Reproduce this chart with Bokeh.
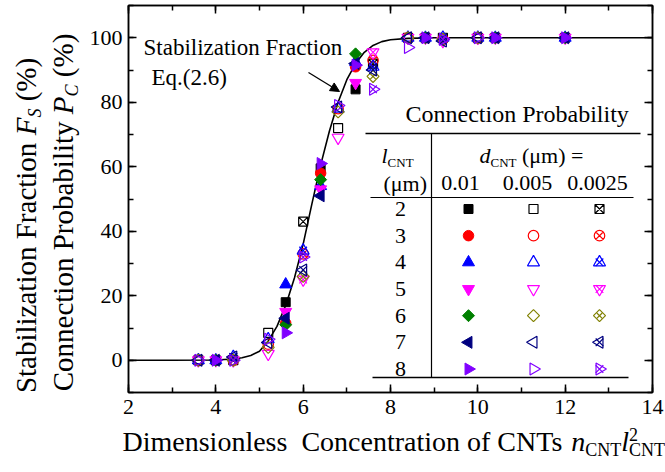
import math
from bokeh.plotting import figure
from bokeh.layouts import row, column
from bokeh.models import (Label, Arrow, NormalHead, LinearAxis, SingleIntervalTicker,
                          CustomJSTickFormatter)
from bokeh.embed import file_html
from bokeh.resources import INLINE

# ---------------- data ----------------
l_cnt = [2, 3, 4, 5, 6, 7, 8]                # CNT length (um)
d_labels = ["0.01", "0.005", "0.0025"]       # CNT diameter (um)

# dimensionless concentration n*l^2 for each diameter group
conc_d010 = [4.0, 5.6, 6.4, 7.2, 8.8, 10.4, 12.0]
conc_d005 = [3.6, 5.2, 6.8, 8.4, 10.0]
conc_d0025 = [4.4, 6.0, 7.6, 9.2]

# connection probability (%) ; one row per l_cnt = 2..8
pc_d010 = [
    [0, 18.0, 59.5, 84.0, 100, 100, 100],
    [0, 11.5, 58.0, 91.0, 100, 100, 100],
    [0, 23.5, 54.0, 92.5, 100, 100, 100],
    [0, 15.0, 53.0, 86.0, 100, 100, 100],
    [0, 11.0, 56.0, 95.0, 100, 100, 100],
    [0, 13.0, 51.0, 92.0, 100, 100, 100],
    [0, 8.5, 61.0, 91.5, 100, 100, 100],
]
pc_d005 = [
    [0, 8.5, 72.0, 100, 100],
    [0, 5.0, 78.0, 100, 100],
    [0, 6.5, 78.0, 100, 100],
    [0, 2.0, 69.0, 100, 100],
    [0, 4.0, 77.0, 100, 100],
    [0, 5.5, 78.5, 100, 100],
    [0, 6.5, 79.0, 97.0, 100],
]
pc_d0025 = [
    [0, 43.0, 92.0, 100],
    [0, 33.0, 93.0, 99.5],
    [1.0, 34.0, 91.0, 100],
    [0, 25.0, 95.5, 99.0],
    [0, 26.0, 88.0, 99.5],
    [1.0, 28.0, 90.0, 99.0],
    [0, 32.0, 84.0, 99.5],
]

# stabilization fraction curve, Eq.(2.6)
fs_conc = [2.0, 3.0, 4.0, 4.4, 4.6, 4.8, 5.0, 5.2, 5.4, 5.6, 5.8, 6.0, 6.2, 6.4,
           6.6, 6.8, 7.0, 7.2, 7.4, 7.6, 7.8, 8.0, 8.4, 9.0, 14.0]
fs_value = [0.0, 0.0, 0.1, 0.4, 0.8, 1.5, 2.8, 6.0, 10.5, 17.0, 25.5, 36.0, 48.5, 60.5,
            71.0, 80.0, 87.0, 92.0, 95.5, 97.6, 98.8, 99.4, 99.8, 100.0, 100.0]

x_ticks_interval = 2
y_ticks_interval = 20

# ---------------- styling ----------------
FONT = "Liberation Serif"
colors_solid = ["#000000", "#FF0000", "#0000FF", "#FF00FF", "#008000", "#000080", "#8000FF"]
colors_line = ["#000000", "#FF0000", "#0000FF", "#FF00FF", "#808000", "#000080", "#8000FF"]
# (bokeh marker, rotation, size) for l = 2..8
shapes = [("square", 0.0, 9.0), ("circle", 0.0, 10.5), ("triangle", 0.0, 12.0),
          ("inverted_triangle", 0.0, 12.0), ("square", math.pi / 4, 8.5),
          ("triangle", math.pi / 2, 12.0), ("triangle", -math.pi / 2, 12.0)]

W, H = 665, 472
LEFT_W = 85                                # strip holding the y titles
BOT_H = 48                                 # strip holding the x title
FL, FR, FT, FB = 128, 652, 5, 392          # frame edges (page pixels)
X0, X1, Y0, Y1 = 2, 14, -10, 110


def dx(px):
    return X0 + (px - FL) * (X1 - X0) / (FR - FL)


def dy(py):
    return Y1 - (py - FT) * (Y1 - Y0) / (FB - FT)


def ident(v):
    return v


p = figure(width=W - LEFT_W, height=H - BOT_H, x_range=(X0, X1), y_range=(Y0, Y1),
           output_backend="svg", toolbar_location=None,
           min_border_left=FL - LEFT_W, min_border_right=W - FR,
           min_border_top=FT, min_border_bottom=H - BOT_H - FB)
p.frame_align = False
p.xgrid.visible = False
p.ygrid.visible = False
p.outline_line_color = "black"
p.outline_line_width = 1.5


def strip_fig(x0, x1, y0, y1):
    f = figure(width=x1 - x0, height=y1 - y0, x_range=(x0, x1), y_range=(y1, y0),
               output_backend="svg", toolbar_location=None,
               x_axis_type=None, y_axis_type=None, min_border=0)
    f.frame_align = False
    f.outline_line_color = None
    f.xgrid.visible = False
    f.ygrid.visible = False
    return f


left_fig = strip_fig(0, LEFT_W, 0, H)
bot_fig = strip_fig(LEFT_W, W, H - BOT_H, H)


def style_axis(ax, ticker, show_labels, standoff):
    ax.ticker = ticker
    ax.axis_line_width = 1.5
    ax.major_tick_line_width = 1.5
    ax.minor_tick_line_width = 1.5
    ax.major_tick_in = 8
    ax.major_tick_out = 0
    ax.minor_tick_in = 5
    ax.minor_tick_out = 0
    ax.axis_label = None
    if show_labels:
        ax.major_label_text_font = FONT
        ax.major_label_text_font_size = "22px"
        ax.major_label_text_color = "black"
        ax.major_label_standoff = standoff
    else:
        ax.formatter = CustomJSTickFormatter(code="return ''")
        ax.major_label_standoff = 0
        ax.major_label_text_font_size = "1px"


xt = lambda: SingleIntervalTicker(interval=x_ticks_interval, num_minor_ticks=2)
yt = lambda: SingleIntervalTicker(interval=y_ticks_interval, num_minor_ticks=2)
style_axis(p.xaxis[0], xt(), True, 7)
style_axis(p.yaxis[0], yt(), True, 6)
top_ax = LinearAxis()
right_ax = LinearAxis()
p.add_layout(top_ax, "above")
p.add_layout(right_ax, "right")
style_axis(top_ax, xt(), False, 0)
style_axis(right_ax, yt(), False, 0)

# ---------------- curve ----------------
p.line(fs_conc, fs_value, line_color="black", line_width=1.6)


# ---------------- markers ----------------
def draw_marker(xs, ys, i, kind):
    m, ang, sz = shapes[i]
    if kind == "solid":
        p.scatter(xs, ys, marker=m, angle=ang, size=sz, fill_color=colors_solid[i],
                  line_color=colors_solid[i], line_width=1)
    else:
        c = colors_line[i]
        if kind == "cross" and m in ("square", "circle") and ang == 0:
            p.scatter(xs, ys, marker=m + "_x", size=sz, fill_color=None,
                      line_color=c, line_width=1.2)
        else:
            p.scatter(xs, ys, marker=m, angle=ang, size=sz, fill_color=None,
                      line_color=c, line_width=1.2)
            if kind == "cross":
                p.scatter(xs, ys, marker="x", size=sz * 0.9, line_color=c, line_width=1.2)


for i in range(len(l_cnt)):
    draw_marker(conc_d010, pc_d010[i], i, "solid")
for i in range(len(l_cnt)):
    draw_marker(conc_d005, pc_d005[i], i, "open")
for i in range(len(l_cnt)):
    draw_marker(conc_d0025, pc_d0025[i], i, "cross")

# ---------------- text helpers ----------------
WID = {' ': 250, '(': 333, ')': 333, '%': 833, '.': 250, '=': 564, '2': 500, '6': 500,
       'C': 667, 'D': 722, 'E': 611, 'F': 556, 'N': 722, 'P': 556, 'S': 556, 'T': 611,
       'a': 444, 'b': 500, 'c': 444, 'd': 500, 'e': 444, 'f': 333, 'i': 278, 'l': 278,
       'm': 778, 'n': 500, 'o': 500, 'q': 500, 'r': 333, 's': 389, 't': 278, 'y': 500,
       'z': 444, 'μ': 500}
WID_IT = {'F': 611, 'S': 500, 'P': 611, 'C': 667, 'n': 500, 'l': 278, 'd': 500}


def tw(s, size, italic=False):
    return sum((WID_IT.get(ch, WID.get(ch, 500)) if italic else WID.get(ch, 500))
               for ch in s) * size / 1000.0


def runs(fig, items, px, py, vertical=False, mx=dx, my=dy):
    """Lay out text runs from a baseline start point given in page pixels.
    items: (text, size, italic, shift_px, advance); shift > 0 lowers the run."""
    pos = 0.0
    for text, size, italic, shift, adv in items:
        lead = tw(text[:len(text) - len(text.lstrip())], size)
        body = text.strip()
        mid = 0.34 * size                      # baseline -> middle of em box
        if vertical:
            x, y, ang = px + shift - mid, py - pos - lead, math.pi / 2
        else:
            x, y, ang = px + pos + lead, py + shift - mid, 0.0
        if body:
            fig.add_layout(Label(x=mx(x), y=my(y), text=body, angle=ang,
                                 text_font=FONT, text_font_size=f"{size}px",
                                 text_font_style="italic" if italic else "normal",
                                 text_align="left", text_baseline="middle",
                                 text_color="black"))
        if adv:
            pos += tw(text, size, italic)
    return pos


def total(items):
    return sum(tw(t, s, it) for t, s, it, _, adv in items if adv)


# axis titles
TS = 28
SUB = 18
xtitle = [("Dimensionless", TS, False, 0, True), ("  Concentration of CNTs", TS, False, 0, True),
          (" n", TS, True, 0, True), ("CNT", SUB, False, 5, True),
          ("l", TS, True, 0, True), ("2", SUB, False, -11, False), ("CNT", SUB, False, 5, True)]
runs(bot_fig, xtitle, 122, 451, mx=ident, my=ident)

YS = 29
ytitle1 = [("Stabilization Fraction", YS, False, 0, True), (" F", YS, True, 0, True),
           ("S", SUB, True, 6, True), (" (%)", YS, False, 0, True)]
ytitle2 = [("Connection Probability", YS, False, 0, True), (" P", YS, True, 0, True),
           ("C", SUB, True, 6, True), (" (%)", YS, False, 0, True)]
runs(left_fig, ytitle1, 35, 225 + total(ytitle1) / 2, vertical=True, mx=ident, my=ident)
runs(left_fig, ytitle2, 72, 212 + total(ytitle2) / 2, vertical=True, mx=ident, my=ident)

# curve annotation with arrow
AS = 23
runs(p, [("Stabilization Fraction", AS, False, 0, True)], 143, 55)
runs(p, [("Eq.(2.6)", AS, False, 0, True)], 151, 85)
p.add_layout(Arrow(end=NormalHead(size=9, fill_color="black", line_color="black"),
                   x_start=dx(308), y_start=dy(72), x_end=dx(339), y_end=dy(91),
                   line_color="black", line_width=1.3))

# ---------------- legend table ----------------
LS = 22
runs(p, [("Connection Probability", 24, False, 0, True)], 405, 122)
tbl_left, tbl_right, tbl_vline = 368, 636, 431
rule_top, rule_head, rule_bot = 133, 197, 377
p.line([dx(tbl_left - 3), dx(tbl_right + 4)], [dy(rule_top)] * 2, line_color="black", line_width=1.5)
p.line([dx(tbl_left + 2), dx(tbl_right - 3)], [dy(rule_head)] * 2, line_color="black", line_width=1.2)
p.line([dx(tbl_left + 4), dx(tbl_right - 8)], [dy(rule_bot)] * 2, line_color="black", line_width=1.5)
p.line([dx(tbl_vline)] * 2, [dy(rule_top), dy(rule_bot)], line_color="black", line_width=1.2)

runs(p, [("l", LS, True, 0, True), ("CNT", 13, False, 4, True)], 381, 162)
runs(p, [("d", LS, True, 0, True), ("CNT", 13, False, 4, True), (" (μm) =", LS, False, 0, True)], 479, 162)
runs(p, [("(μm)", LS, False, 0, True)], 383, 190)
col_x = [468, 533, 599]
col_head_x = [460, 527, 597]
for cx, lab in zip(col_head_x, d_labels):
    w = tw(lab, LS)
    runs(p, [(lab, LS, False, 0, True)], cx - w / 2, 190)

row_y0, row_dy = 208.5, 26.67
for i, l in enumerate(l_cnt):
    ry = row_y0 + i * row_dy
    w = tw(str(l), LS)
    runs(p, [(str(l), LS, False, 0, True)], 400 - w / 2, ry + 7.5)
    for kind, cx in zip(["solid", "open", "cross"], col_x):
        draw_marker([dx(cx)], [dy(ry)], i, kind)

layout = row(left_fig, column(p, bot_fig, spacing=0), spacing=0)
open("out.html", "w").write(file_html(layout, INLINE))
